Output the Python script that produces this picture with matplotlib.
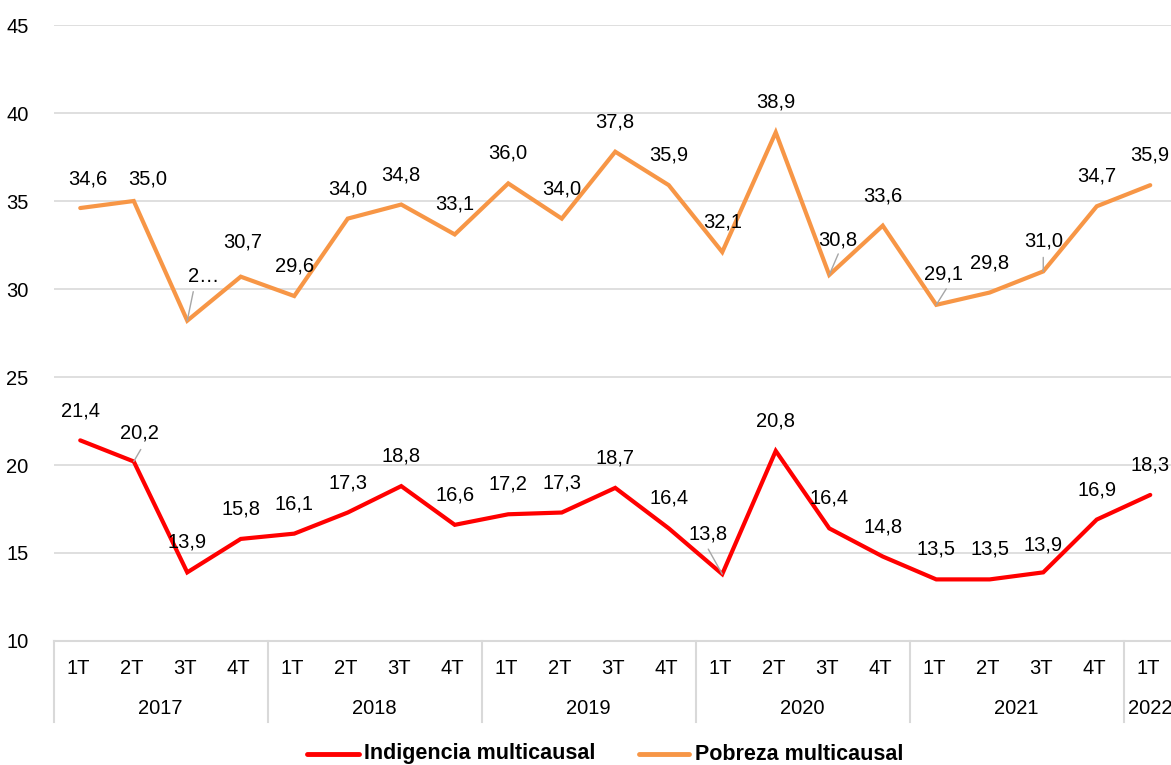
import matplotlib
matplotlib.use("Agg")
import matplotlib.pyplot as plt
from matplotlib.lines import Line2D
from matplotlib.transforms import blended_transform_factory

plt.rcParams['font.family'] = ['Liberation Sans', 'DejaVu Sans']

# ---- data ----
years = ["2017", "2018", "2019", "2020", "2021", "2022"]
quarters = ["1T", "2T", "3T", "4T"] * 5 + ["1T"]
indigencia = [21.4, 20.2, 13.9, 15.8, 16.1, 17.3, 18.8, 16.6, 17.2, 17.3, 18.7,
              16.4, 13.8, 20.8, 16.4, 14.8, 13.5, 13.5, 13.9, 16.9, 18.3]
pobreza = [34.6, 35.0, 28.2, 30.7, 29.6, 34.0, 34.8, 33.1, 36.0, 34.0, 37.8,
           35.9, 32.1, 38.9, 30.8, 33.6, 29.1, 29.8, 31.0, 34.7, 35.9]
year_sizes = [4, 4, 4, 4, 4, 1]
yticks = [10, 15, 20, 25, 30, 35, 40, 45]

# ---- layout (label offsets in pixels; index -> (dx, dy, leader end dx, dy)) ----
ind_off = {0: (0, 29, None, None), 1: (6, 28, 7, 12), 12: (-14, 40, -14, 25),
           18: (0, 27, None, None)}
pob_off = {0: (8, 29, None, None), 1: (14, 22, None, None), 2: (16, 44, 6, 29),
           3: (2, 35, None, None), 14: (9, 35, 9, 21), 16: (7, 31, 10, 16),
           18: (0, 30, 0, 14)}

RED = "#FF0000"
ORANGE = "#F79646"
GRID = "#D9D9D9"
FS = 14.5

fig = plt.figure(figsize=(11.71, 7.65), dpi=100)
W, H = 1171, 765
ax_l, ax_r, ax_t, ax_b = 53.5, 1177, 25, 641
ax = fig.add_axes([ax_l / W, 1 - ax_b / H, (ax_r - ax_l) / W, (ax_b - ax_t) / H])

n = len(pobreza)
x = list(range(n))
ax.set_xlim(-0.5, n - 0.5)
ax.set_ylim(10, 45)
ax.set_yticks(yticks)
ax.set_yticklabels([str(t) for t in yticks], fontsize=FS)
ax.tick_params(axis='y', length=0, pad=18)
ax.set_xticks([])
for s in ax.spines.values():
    s.set_visible(False)
ax.grid(axis='y', color=GRID, linewidth=1.2)
ax.set_axisbelow(True)

ax.plot(x, pobreza, color=ORANGE, linewidth=3.0, solid_capstyle='round',
        solid_joinstyle='miter', zorder=3)
ax.plot(x, indigencia, color=RED, linewidth=3.0, solid_capstyle='round',
        solid_joinstyle='miter', zorder=3)


def fmt(v):
    return f"{v:.1f}".replace('.', ',')


def label_series(vals, offs, truncated=None):
    for i, v in enumerate(vals):
        dx, dy, lx, ly = offs.get(i, (0, 30, None, None))
        txt = fmt(v)
        if truncated and i in truncated:
            txt = truncated[i]
        ax.annotate(txt, (i, v), xytext=(dx, dy), textcoords='offset pixels',
                    ha='center', va='center', fontsize=FS, color='black',
                    zorder=5, annotation_clip=False)
        if lx is not None:
            ax.annotate("", (i, v), xytext=(lx, ly),
                        textcoords='offset pixels',
                        arrowprops=dict(arrowstyle='-', color='#A6A6A6',
                                        linewidth=1.0, shrinkA=0, shrinkB=0),
                        zorder=4)


label_series(pobreza, pob_off, truncated={2: "2…"})
label_series(indigencia, ind_off)

# ---- two-level category axis ----
trans = blended_transform_factory(ax.transData, ax.transAxes)
axh = ax_b - ax_t
ax.plot([-0.5, n - 0.5], [0, 0], transform=trans, color=GRID, linewidth=1.5,
        clip_on=False)
for i, q in enumerate(quarters):
    ax.text(i - 0.04, -27 / axh, q, transform=trans, ha='center', va='center',
            fontsize=FS)
start = 0
seps = [-0.5]
for y, sz in zip(years, year_sizes):
    ax.text(start + (sz - 1) / 2, -67 / axh, y, transform=trans, ha='center',
            va='center', fontsize=FS)
    start += sz
    seps.append(start - 0.5)
for s in seps:
    ax.plot([s, s], [0, -81 / axh], transform=trans, color=GRID, linewidth=1.5,
            clip_on=False)

# ---- legend ----
ly = 1 - 754 / H
fig.add_artist(Line2D([307 / W, 359 / W], [ly, ly], color=RED, linewidth=3.5,
                      solid_capstyle='round'))
fig.text(364 / W, ly, "Indigencia multicausal", fontsize=15.5, fontweight='bold',
         va='center', ha='left')
fig.add_artist(Line2D([639 / W, 689 / W], [ly, ly], color=ORANGE, linewidth=3.5,
                      solid_capstyle='round'))
fig.text(695 / W, ly, "Pobreza multicausal", fontsize=15.5, fontweight='bold',
         va='center', ha='left')

fig.savefig("out.png", dpi=100)
